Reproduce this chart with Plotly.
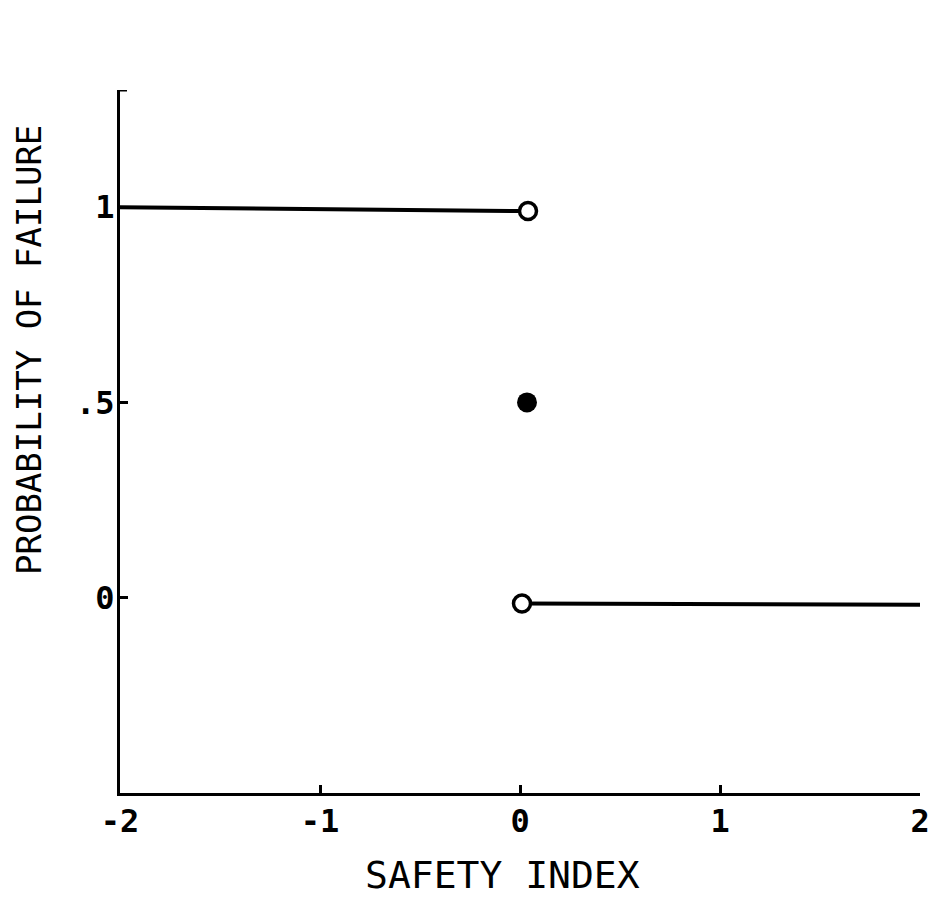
import plotly.graph_objects as go

# Step function: probability of failure vs. safety index
upper_x = [-2.0, 0.04]
upper_y = [1.0, 0.99]
lower_x = [0.01, 2.0]
lower_y = [-0.015, -0.018]
open_x = [0.04, 0.01]
open_y = [0.99, -0.015]
mid_x = [0.035]
mid_y = [0.5]

x_ticks = [-2, -1, 0, 1, 2]
x_labels = ["-2", "-1", "0", "1", "2"]
y_ticks = [0, 0.5, 1]
y_labels = ["0", ".5", "1"]
y_top = 1.3

FONT = "DejaVu Sans Mono"
INK = "#000000"

fig = go.Figure()
fig.add_trace(go.Scatter(x=upper_x, y=upper_y, mode="lines",
                         line=dict(color=INK, width=4), hoverinfo="skip"))
fig.add_trace(go.Scatter(x=lower_x, y=lower_y, mode="lines",
                         line=dict(color=INK, width=4), hoverinfo="skip"))
fig.add_trace(go.Scatter(x=open_x, y=open_y, mode="markers",
                         marker=dict(size=17, color="white",
                                     line=dict(color=INK, width=3.5)),
                         cliponaxis=False))
fig.add_trace(go.Scatter(x=mid_x, y=mid_y, mode="markers",
                         marker=dict(size=20, color=INK, line=dict(width=0)),
                         cliponaxis=False))

axis_common = dict(
    showgrid=False, zeroline=False, showline=True, linecolor=INK, linewidth=3,
    ticks="inside", ticklen=8, tickwidth=3, tickcolor=INK, automargin=False,
    tickfont=dict(family=FONT, size=32, color=INK, weight="bold"),
)

fig.update_xaxes(range=[-2, 2], tickvals=x_ticks, ticktext=x_labels,
                 ticklabelstandoff=-2, **axis_common)
fig.update_yaxes(range=[-0.5, y_top], tickvals=y_ticks, ticktext=y_labels,
                 ticklabelstandoff=-4, **axis_common)

# small inward hook closing the top of the vertical axis
fig.add_shape(type="line", xref="x", yref="y", x0=-2, x1=-1.965,
              y0=y_top, y1=y_top, line=dict(color=INK, width=3))

fig.add_annotation(text="SAFETY INDEX", xref="paper", yref="paper",
                   x=(502 - 120) / 800, y=-(875 - 793) / 703,
                   xanchor="center", yanchor="middle", showarrow=False,
                   font=dict(family=FONT, size=38, color=INK))
fig.add_annotation(text="PROBABILITY OF FAILURE", xref="paper", yref="paper",
                   x=-(120 - 29) / 800, y=(793 - 350) / 703, textangle=-90,
                   xanchor="center", yanchor="middle", showarrow=False,
                   font=dict(family=FONT, size=34, color=INK))

fig.update_layout(
    width=932, height=897,
    margin=dict(l=120, r=12, t=90, b=104),
    paper_bgcolor="white", plot_bgcolor="white",
    showlegend=False,
)

fig.write_html("out.html")
